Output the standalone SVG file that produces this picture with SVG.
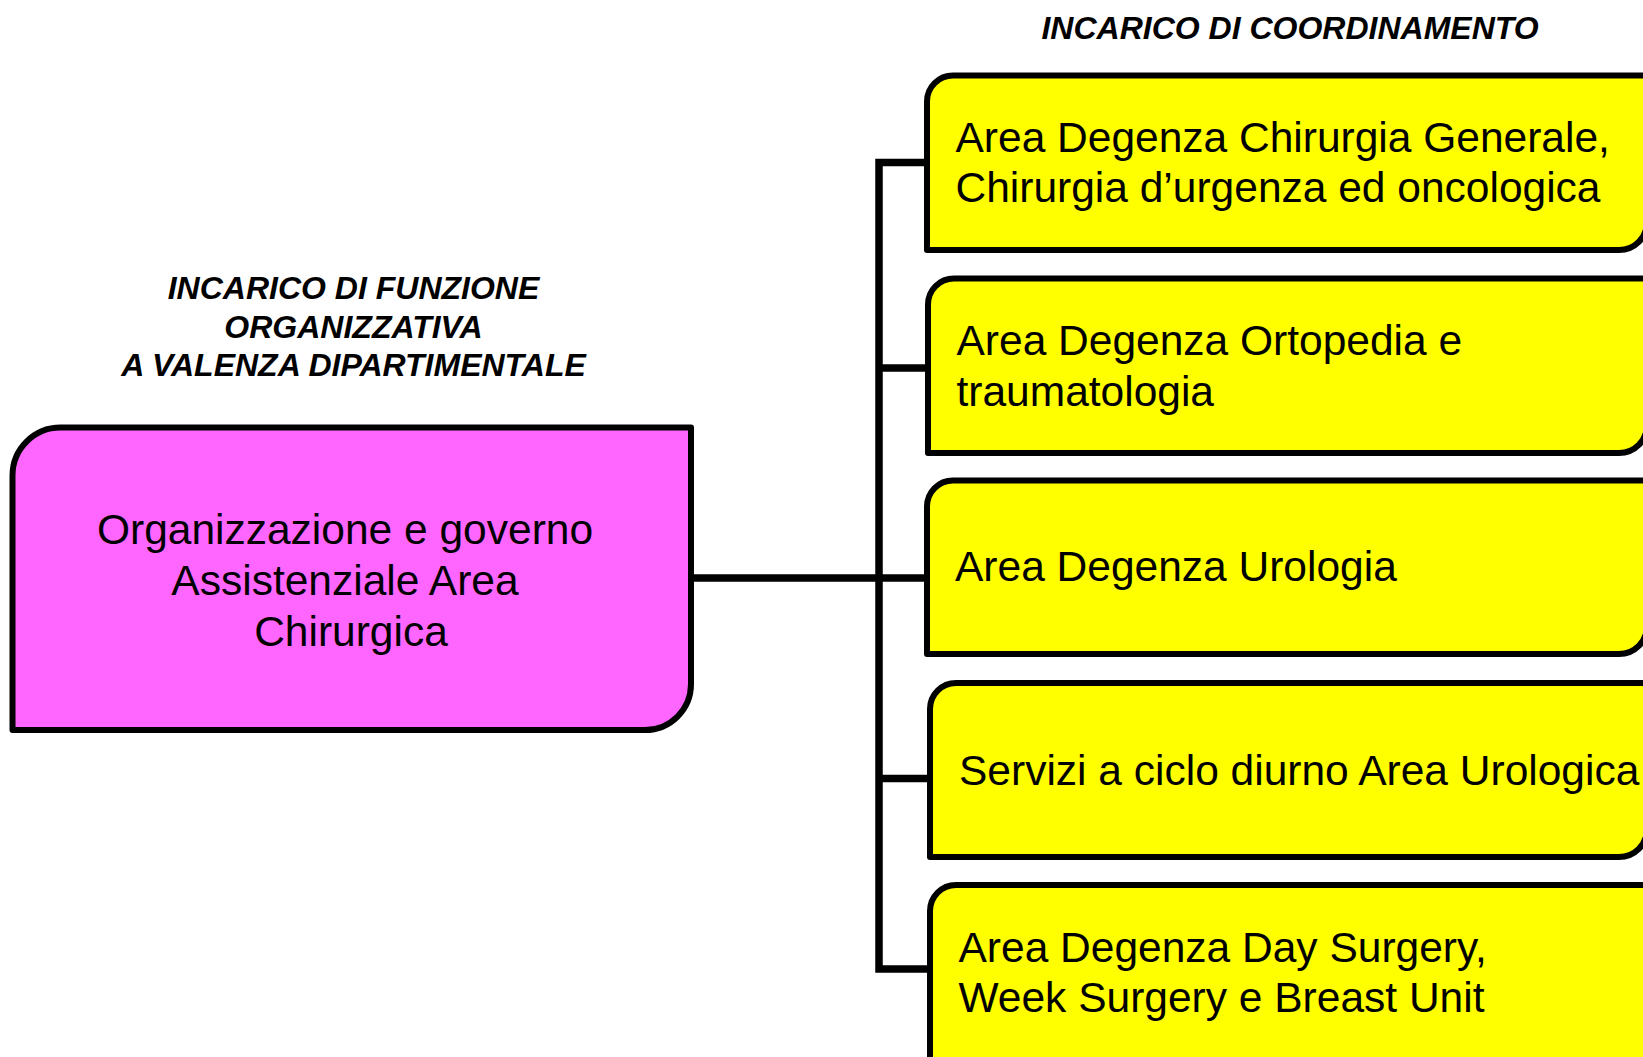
<svg xmlns="http://www.w3.org/2000/svg" width="1643" height="1057" viewBox="0 0 1643 1057">
<style>
.t{font-family:"Liberation Sans",Arial,sans-serif;font-size:42.5px;fill:#000}
.h{font-family:"Liberation Sans",Arial,sans-serif;font-size:32px;font-weight:bold;font-style:italic;fill:#000;text-anchor:middle}
.yb{fill:#FFFF00;stroke:#000;stroke-width:6;stroke-linejoin:round}
.pb{fill:#FF66FF;stroke:#000;stroke-width:6;stroke-linejoin:round}
.c{fill:none;stroke:#000;stroke-width:7.5;stroke-linejoin:miter}
</style>
<rect width="1643" height="1057" fill="#fff"/>
<g id="title-right"><text class="h" x="1290" y="39">INCARICO DI COORDINAMENTO</text></g>
<g id="title-left">
<text class="h" x="353.5" y="298.5">INCARICO DI FUNZIONE</text>
<text class="h" x="353.5" y="337.5">ORGANIZZATIVA</text>
<text class="h" x="353.5" y="376">A VALENZA DIPARTIMENTALE</text>
</g>
<g id="connectors">
<path class="c" d="M691,578 H879"/>
<path class="c" d="M927,162.5 H879 V969 H930"/>
<path class="c" d="M879,368 H928"/>
<path class="c" d="M879,578 H927"/>
<path class="c" d="M879,778.5 H930"/>
</g>
<g id="node-main">
<path class="pb" d="M12.5,730 V475.5 A48,48 0 0 1 60.5,427.5 H691 V684 A46,46 0 0 1 645,730 Z"/>
<text class="t" text-anchor="middle" x="345" y="543.5">Organizzazione e governo</text>
<text class="t" text-anchor="middle" x="345" y="594.5">Assistenziale Area</text>
<text class="t" text-anchor="middle" x="351" y="645.5">Chirurgica</text>
</g>
<g id="node-1">
<path class="yb" d="M927,250 V101.5 A26,26 0 0 1 953,75.5 H1647 V222 A28,28 0 0 1 1619,250 Z"/>
<text class="t" x="955.5" y="151.5">Area Degenza Chirurgia Generale,</text>
<text class="t" x="955.5" y="201.5">Chirurgia d’urgenza ed oncologica</text>
</g>
<g id="node-2">
<path class="yb" d="M928,453 V304.5 A26,26 0 0 1 954,278.5 H1647 V425 A28,28 0 0 1 1619,453 Z"/>
<text class="t" x="956.5" y="355">Area Degenza Ortopedia e</text>
<text class="t" x="956.5" y="406">traumatologia</text>
</g>
<g id="node-3">
<path class="yb" d="M927,654 V506.5 A26,26 0 0 1 953,480.5 H1647 V626 A28,28 0 0 1 1619,654 Z"/>
<text class="t" x="955" y="580.5">Area Degenza Urologia</text>
</g>
<g id="node-4">
<path class="yb" d="M930,857 V709 A26,26 0 0 1 956,683 H1647 V829 A28,28 0 0 1 1619,857 Z"/>
<text class="t" x="959" y="785">Servizi a ciclo diurno Area Urologica</text>
</g>
<g id="node-5">
<path class="yb" d="M930,1075 V911 A26,26 0 0 1 956,885 H1647 V1075 Z"/>
<text class="t" x="958.5" y="961.5">Area Degenza Day Surgery,</text>
<text class="t" x="958.5" y="1012">Week Surgery e Breast Unit</text>
</g>
</svg>
